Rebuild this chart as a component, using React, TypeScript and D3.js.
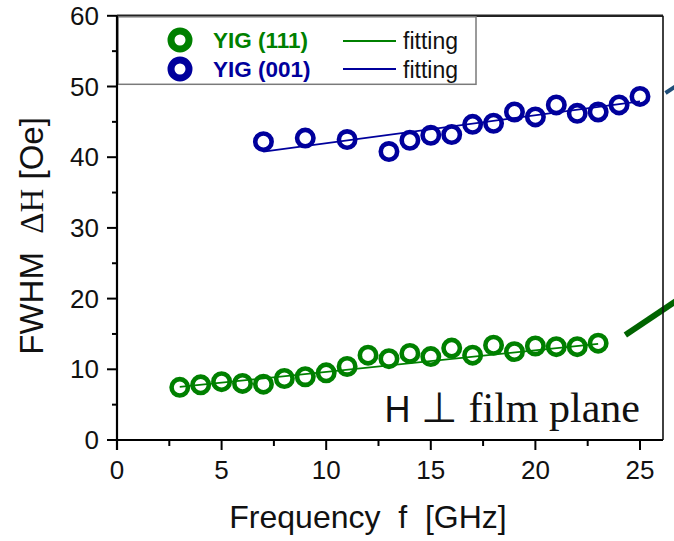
import React from "react";
import * as d3 from "d3";

// Linewidth (FWHM) versus microwave frequency for two YIG film orientations
const freq111 = [3, 4, 5, 6, 7, 8, 9, 10, 11, 12, 13, 14, 15, 16, 17, 18, 19, 20, 21, 22, 23];
const fwhm111 = [7.45, 7.8, 8.25, 8.0, 7.9, 8.7, 8.95, 9.5, 10.4, 12.0, 11.5, 12.25, 11.8, 13.0, 12.0, 13.4, 12.5, 13.3, 13.2, 13.2, 13.7];

const freq001 = [7, 9, 11, 13, 14, 15, 16, 17, 18, 19, 20, 21, 22, 23, 24, 25];
const fwhm001 = [42.2, 42.7, 42.5, 40.8, 42.4, 43.1, 43.2, 44.65, 44.8, 46.4, 45.7, 47.4, 46.2, 46.4, 47.4, 48.6];

// Linear fit end points
const fit111X = [3, 23];
const fit111Y = [7.5, 13.6];
const fit001X = [7, 25];
const fit001Y = [40.8, 47.9];

// Trend lines of the adjacent panel that run in from the right
const sideGreenX = [24.3, 27.2];
const sideGreenY = [14.85, 20.6];
const sideBlueX = [26.22, 27.0];
const sideBlueY = [49.08, 50.6];

const xTicks = [0, 5, 10, 15, 20, 25];
const xMinor = [2.5, 7.5, 12.5, 17.5, 22.5];
const yTicks = [0, 10, 20, 30, 40, 50, 60];
const yMinor = [5, 15, 25, 35, 45, 55];

const GREEN = "#008000";
const BLUE = "#00009c";
const SANS = "Arial, 'Liberation Sans', Helvetica, sans-serif";
const SERIF = "'Times New Roman', 'Liberation Serif', serif";

export default function App() {
  const W = 674;
  const H = 541;
  const x = d3.scaleLinear().domain([0, 26.1]).range([117, 663]);
  const y = d3.scaleLinear().domain([0, 60]).range([440, 15.8]);
  const line = d3
    .line<[number, number]>()
    .x((d) => x(d[0]))
    .y((d) => y(d[1]));
  const zip = (a: number[], b: number[]) => a.map((v, i) => [v, b[i]] as [number, number]);

  const x0 = x(0);
  const y0 = y(0);

  return (
    <svg
      width={W}
      height={H}
      style={{ position: "absolute", left: 0, top: 0, background: "#fff" }}
      fontFamily={SANS}
    >
      <rect x={0} y={0} width={W} height={H} fill="#fff" />

      {/* adjacent panel trend lines */}
      <path d={line(zip(sideGreenX, sideGreenY)) || ""} stroke="#006400" strokeWidth={6} fill="none" />
      <path d={line(zip(sideBlueX, sideBlueY)) || ""} stroke="#1f4e79" strokeWidth={4} fill="none" />

      {/* frame: top and right */}
      <line x1={x0} x2={x(26.1)} y1={y(60)} y2={y(60)} stroke="#222" strokeWidth={2.5} />
      <line x1={x(26.1)} x2={x(26.1)} y1={y(60)} y2={y0} stroke="#111" strokeWidth={1.6} />

      {/* legend */}
      <rect x={118} y={16.8} width={358} height={67.5} fill="#fff" stroke="#7a7a7a" strokeWidth={1.5} />
      <circle cx={180} cy={40} r={9} fill="none" stroke={GREEN} strokeWidth={7} />
      <circle cx={180} cy={69} r={9} fill="none" stroke={BLUE} strokeWidth={7} />
      <text x={213} y={48} fontSize={22.5} fontWeight="bold" fill={GREEN}>YIG (111)</text>
      <text x={213} y={77} fontSize={22.5} fontWeight="bold" fill={BLUE}>YIG (001)</text>
      <line x1={343} x2={396} y1={41} y2={41} stroke={GREEN} strokeWidth={2} />
      <line x1={343} x2={396} y1={69} y2={69} stroke={BLUE} strokeWidth={2} />
      <text x={403} y={49} fontSize={23} fill="#111">fitting</text>
      <text x={403} y={78} fontSize={23} fill="#111">fitting</text>

      {/* fits */}
      <path d={line(zip(fit111X, fit111Y)) || ""} stroke={GREEN} strokeWidth={1.8} fill="none" />
      <path d={line(zip(fit001X, fit001Y)) || ""} stroke={BLUE} strokeWidth={1.8} fill="none" />

      {/* data */}
      {freq111.map((f, i) => (
        <circle key={"g" + i} cx={x(f)} cy={y(fwhm111[i])} r={8.2} fill="none" stroke={GREEN} strokeWidth={4.6} />
      ))}
      {freq001.map((f, i) => (
        <circle key={"b" + i} cx={x(f)} cy={y(fwhm001[i])} r={8.2} fill="none" stroke={BLUE} strokeWidth={4.6} />
      ))}

      {/* axes */}
      <line x1={x0 - 10} x2={x(26.1)} y1={y0} y2={y0} stroke="#000" strokeWidth={2.2} />
      <line x1={x0} x2={x0} y1={y(60)} y2={y0 + 10} stroke="#000" strokeWidth={2.2} />
      {xTicks.map((t) => (
        <g key={"xt" + t}>
          <line x1={x(t)} x2={x(t)} y1={y0} y2={y0 + 10} stroke="#000" strokeWidth={2} />
          <text x={x(t)} y={479} fontSize={26} textAnchor="middle" fill="#111">{t}</text>
        </g>
      ))}
      {xMinor.map((t) => (
        <line key={"xm" + t} x1={x(t)} x2={x(t)} y1={y0} y2={y0 + 6} stroke="#000" strokeWidth={2} />
      ))}
      {yTicks.map((t) => (
        <g key={"yt" + t}>
          <line x1={x0 - 10} x2={x0} y1={y(t)} y2={y(t)} stroke="#000" strokeWidth={2} />
          <text x={99} y={y(t) + 9} fontSize={26} textAnchor="end" fill="#111">{t}</text>
        </g>
      ))}
      {yMinor.map((t) => (
        <line key={"ym" + t} x1={x0 - 5} x2={x0} y1={y(t)} y2={y(t)} stroke="#000" strokeWidth={2} />
      ))}

      {/* axis titles */}
      <text x={368} y={528} fontSize={32} textAnchor="middle" fill="#111" xmlSpace="preserve">
        Frequency  f  [GHz]
      </text>
      <text
        transform={`translate(43, ${(y(0) + y(60)) / 2 + 8}) rotate(-90)`}
        fontSize={33}
        textAnchor="middle"
        fill="#111"
        xmlSpace="preserve"
      >
        FWHM  <tspan fontFamily={SERIF}>ΔH</tspan> [Oe]
      </text>

      {/* field orientation note */}
      <text x={640} y={422} textAnchor="end" fill="#111">
        <tspan fontFamily={SANS} fontSize={36}>H</tspan>
        <tspan fontFamily={SERIF} fontSize={42}> ⊥ film plane</tspan>
      </text>
    </svg>
  );
}
